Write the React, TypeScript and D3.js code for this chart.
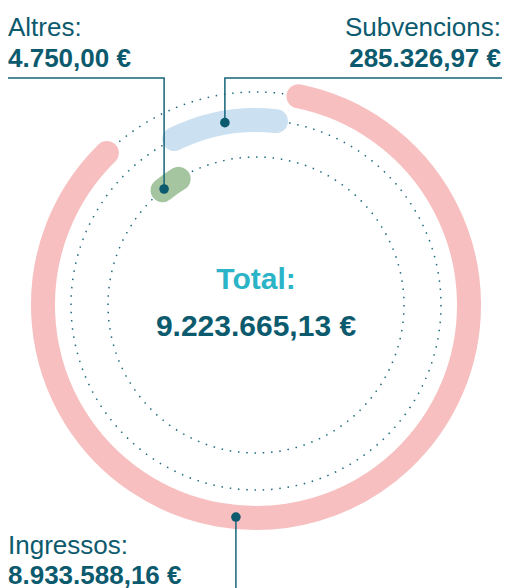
import React from "react";
import * as d3 from "d3";

// ---- data ----
const categories = ["Ingressos", "Altres", "Subvencions"];
const values = [8933588.16, 4750.0, 285326.97];
const valueLabels = ["8.933.588,16 €", "4.750,00 €", "285.326,97 €"];
const totalValue = 9223665.13;
const totalTitle = "Total:";
const totalLabel = "9.223.665,13 €";
const colors = ["#f7bfbf", "#a5c5a1", "#cbe0f1"];

// ---- layout ----
const W = 506;
const H = 588;
const CX = 256;
const CY = 305;
const STROKE = 24;
const ringRadius: Record<string, number> = { Ingressos: 213, Subvencions: 185, Altres: 148 };
const anchorFraction: Record<string, number> = { Ingressos: 0.572, Altres: 0.1, Subvencions: 0.51 };
const labelSide: Record<string, string> = { Ingressos: "bottom-left", Altres: "top-left", Subvencions: "top-right" };

const DARK = "#0c5a6e";
const LINE = "#16647a";
const CYAN = "#2bb4c7";
const FONT = "'Liberation Sans', Arial, Helvetica, sans-serif";

const deg = Math.PI / 180;

export default function App() {
  const pad = 5.3 * deg;
  const start = 11.5 * deg - pad / 2;
  // compressed scale so the small items remain readable
  const weight = d3.scalePow().exponent(0.65).domain([0, totalValue]).range([0, 1]);
  const minWeight = 0.0246;

  const data = categories.map((c, i) => ({ c, v: values[i], label: valueLabels[i], color: colors[i] }));
  const pie = d3
    .pie<any>()
    .sort(null)
    .value((d: any) => Math.max(weight(d.v), minWeight))
    .startAngle(start)
    .endAngle(start + 2 * Math.PI)
    .padAngle(pad);
  const arcs = pie(data);

  const pt = (r: number, a: number) => [r * Math.sin(a), -r * Math.cos(a)];

  const items = arcs.map((a: any) => {
    const r = ringRadius[a.data.c];
    const a0 = a.startAngle + a.padAngle / 2;
    const a1 = a.endAngle - a.padAngle / 2;
    const p = d3.path();
    p.arc(0, 0, r, a0 - Math.PI / 2, a1 - Math.PI / 2, false);
    const am = a0 + (a1 - a0) * anchorFraction[a.data.c];
    const [dx, dy] = pt(r, am);
    return { ...a.data, r, d: p.toString(), dot: [CX + dx, CY + dy] };
  });

  const topLineY = 78;

  return (
    <svg
      width={W}
      height={H}
      style={{ position: "absolute", left: 0, top: 0, display: "block", fontFamily: FONT }}
    >
      <g transform={`translate(${CX},${CY})`}>
        {items.map((it) => (
          <circle
            key={"track-" + it.c}
            r={it.r}
            fill="none"
            stroke="#1f6a7c"
            strokeWidth={1.5}
            strokeDasharray="1.5 6.8"
          />
        ))}
        {items.map((it) => (
          <path
            key={"arc-" + it.c}
            d={it.d}
            fill="none"
            stroke={it.color}
            strokeWidth={STROKE}
            strokeLinecap="round"
          />
        ))}
      </g>

      {items.map((it) => {
        const [x, y] = it.dot;
        const side = labelSide[it.c];
        let d = "";
        if (side === "top-left") d = `M8,${topLineY}H${x}V${y}`;
        else if (side === "top-right") d = `M502,${topLineY}H${x}V${y}`;
        else d = `M${x},${y}V${H + 10}`;
        return <path key={"line-" + it.c} d={d} fill="none" stroke={LINE} strokeWidth={1.5} />;
      })}
      {items.map((it) => (
        <circle key={"dot-" + it.c} cx={it.dot[0]} cy={it.dot[1]} r={4.8} fill={DARK} />
      ))}

      {items.map((it) => {
        const side = labelSide[it.c];
        const anchor = side === "top-right" ? "end" : "start";
        const x = side === "top-right" ? 501 : 8;
        const y1 = side === "bottom-left" ? 554 : 36;
        const y2 = side === "bottom-left" ? 584 : 67;
        return (
          <g key={"lab-" + it.c} fill={DARK} textAnchor={anchor}>
            <text x={x} y={y1} fontSize={26}>
              {it.c + ":"}
            </text>
            <text x={x} y={y2} fontSize={26} fontWeight="bold">
              {it.label}
            </text>
          </g>
        );
      })}

      <text x={CX} y={289} textAnchor="middle" fontSize={30} fontWeight="bold" fill={CYAN}>
        {totalTitle}
      </text>
      <text x={CX} y={336} textAnchor="middle" fontSize={30} fontWeight="bold" fill={DARK}>
        {totalLabel}
      </text>
    </svg>
  );
}
